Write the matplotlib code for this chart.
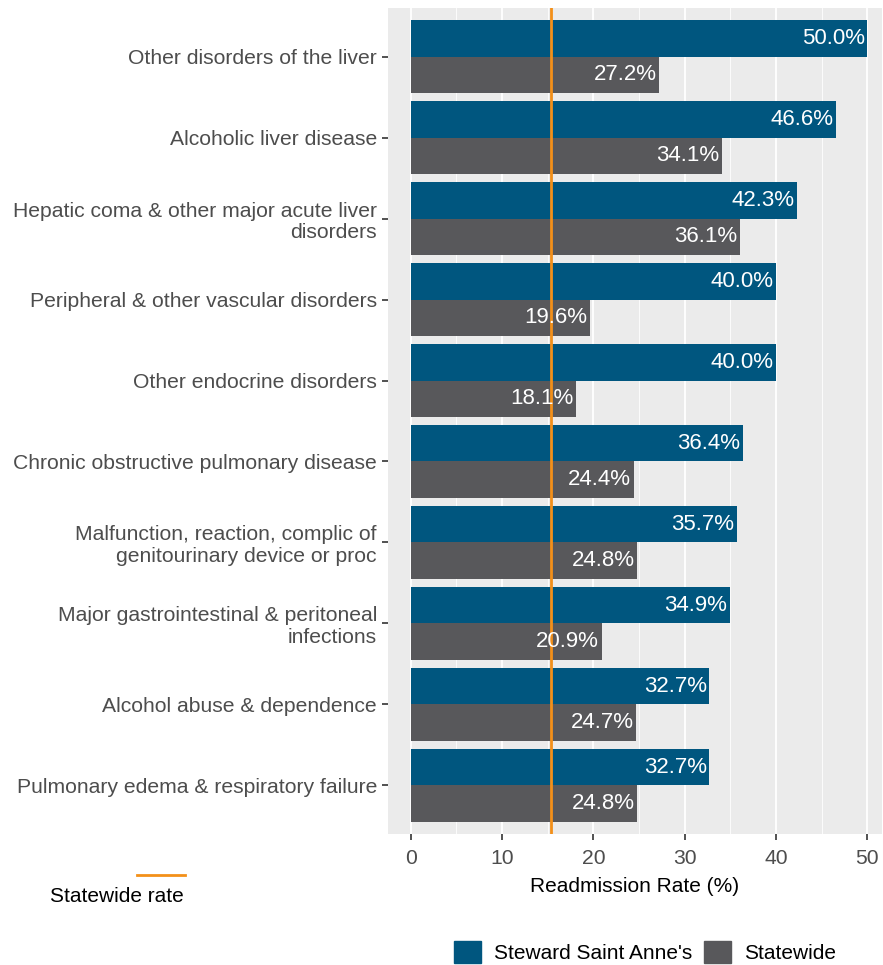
import numpy as np
import matplotlib
matplotlib.use("Agg")
import matplotlib.pyplot as plt
from matplotlib.patches import Patch
from matplotlib.lines import Line2D

plt.rcParams['font.family'] = ['Liberation Sans', 'DejaVu Sans']

categories = [
    "Other disorders of the liver",
    "Alcoholic liver disease",
    "Hepatic coma & other major acute liver\ndisorders",
    "Peripheral & other vascular disorders",
    "Other endocrine disorders",
    "Chronic obstructive pulmonary disease",
    "Malfunction, reaction, complic of\ngenitourinary device or proc",
    "Major gastrointestinal & peritoneal\ninfections",
    "Alcohol abuse & dependence",
    "Pulmonary edema & respiratory failure",
]
hospital = [50.0, 46.6, 42.3, 40.0, 40.0, 36.4, 35.7, 34.9, 32.7, 32.7]
statewide = [27.2, 34.1, 36.1, 19.6, 18.1, 24.4, 24.8, 20.9, 24.7, 24.8]
statewide_rate = 15.4

blue = "#00567F"
gray = "#58585B"
orange = "#F39019"

W, H = 883, 965
fig = plt.figure(figsize=(W / 100, H / 100), dpi=100)
ax = fig.add_axes([388 / W, (H - 834) / H, (882 - 388) / W, (834 - 8) / H])
ax.set_facecolor("#EBEBEB")
for s in ax.spines.values():
    s.set_visible(False)

y = np.arange(len(categories))
bh = 0.45
ax.barh(y - bh / 2, hospital, height=bh, color=blue, zorder=2)
ax.barh(y + bh / 2, statewide, height=bh, color=gray, zorder=2)

for yi, v in zip(y - bh / 2, hospital):
    ax.text(v - 0.3, yi, f"{v:.1f}%", color="white", ha="right", va="center",
            fontsize=16, zorder=4)
for yi, v in zip(y + bh / 2, statewide):
    ax.text(v - 0.3, yi, f"{v:.1f}%", color="white", ha="right", va="center",
            fontsize=16, zorder=4)

ax.axvline(statewide_rate, color=orange, lw=2, zorder=3)

ax.set_xlim(-2.5, 51.6)
ax.set_ylim(len(categories) - 0.4, -0.6)
ax.set_xticks([0, 10, 20, 30, 40, 50])
ax.set_xticks([5, 15, 25, 35, 45], minor=True)
ax.grid(axis="x", which="major", color="white", lw=1.3, zorder=0)
ax.grid(axis="x", which="minor", color="white", lw=0.6, zorder=0)
ax.set_yticks(y)
ax.set_yticklabels(categories, ha="right", fontsize=15.2, color="#4D4D4D",
                   linespacing=1.15)
ax.tick_params(axis="both", which="major", length=4, width=1.2, color="#333333",
               labelsize=15.2, labelcolor="#4D4D4D", pad=4)
ax.tick_params(axis="x", which="major", pad=7)
ax.tick_params(axis="x", which="minor", length=0)
ax.set_xlabel("Readmission Rate (%)", fontsize=15, color="black", labelpad=6)

# statewide rate key
fig.add_artist(Line2D([137 / W, 185 / W], [(H - 875) / H] * 2, color=orange, lw=2))
fig.text(184 / W, (H - 897) / H, "Statewide rate", ha="right", va="center",
         fontsize=15, color="black")

handles = [Patch(color=blue, label="Steward Saint Anne's"),
           Patch(color=gray, label="Statewide")]
fig.legend(handles=handles, loc="center", bbox_to_anchor=(645 / W, (H - 952) / H),
           ncol=2, frameon=False, fontsize=15, handlelength=1.3, handleheight=1.3,
           handletextpad=0.6, columnspacing=0.6)

fig.savefig("out.png", dpi=100)
